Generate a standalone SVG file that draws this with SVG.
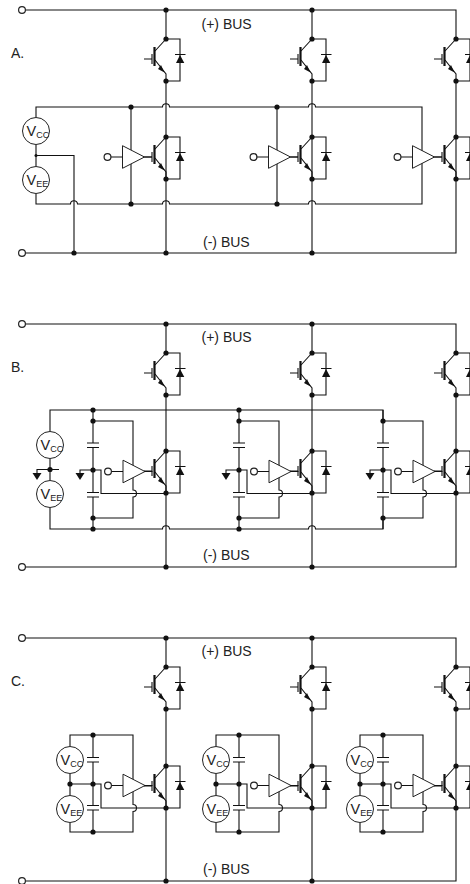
<svg xmlns="http://www.w3.org/2000/svg" xmlns:xlink="http://www.w3.org/1999/xlink" width="470" height="884" viewBox="0 0 470 884">
<style>
text{font-family:"Liberation Sans",Arial,sans-serif;fill:#222}
.l{font-size:14px}
.v{font-size:14.5px}
.s{font-size:9px}
.w{fill:none;stroke:#111;stroke-width:1.1}
.d{fill:#111;stroke:none}
.o{fill:#fff;stroke:#222;stroke-width:1}
.t{fill:#fff;stroke:#222;stroke-width:1.200}
</style>
<defs>
<g id="igbt">
<path class="w" d="M-22 20H-14M-14 15V25M-11 12L0 0M-11 21L0 35V42M0 0H14V42H0M9 15.500H19.500"/>
<path class="w" style="stroke-width:2.200" d="M-11.500 8V27"/>
<path class="d" d="M-1.500 33.500L-8 30L-5 26ZM10 24H18.300L14 16Z"/>
<circle class="d" cx="0" cy="0" r="2.600"/><circle class="d" cx="0" cy="42" r="2.600"/>
</g>
<g id="drv">
<path class="o" d="M0 -11.300V11.300L22 0Z"/>
<path class="w" d="M22 0H29.500M-11.500 0H0"/>
<circle class="t" cx="-15" cy="0" r="3.400"/>
</g>
<g id="cap"><path class="w" d="M-6 0H6M-6 4.500H6"/></g>
<g id="gnd"><path class="d" d="M-4.500 3H4.500L0 10Z"/></g>
<circle id="dot" class="d" r="2.600"/>
<g id="stage-b">
<path class="w" d="M93 410V443M93 447.500V492.500M93 497V529M93 421H133V490A3.500 3.500 0 0 1 133 497V518H93M93 470H80V473M93 470H101V493.500H166"/>
<use xlink:href="#cap" x="93" y="443"/><use xlink:href="#cap" x="93" y="492.500"/><use xlink:href="#gnd" x="80" y="470"/>
<use xlink:href="#dot" x="93" y="421"/><use xlink:href="#dot" x="93" y="470"/><use xlink:href="#dot" x="93" y="518"/>
<use xlink:href="#drv" x="123" y="471.500"/><use xlink:href="#igbt" x="166" y="451"/>
</g>
<g id="stage-c">
<path class="w" d="M70 746V735H133V804.500A3.500 3.500 0 0 1 133 811.500V832H70V823M70 774V795M70 784H101V808H166M93 735V757M93 762V805M93 810V832"/>
<use xlink:href="#cap" x="93" y="757.500"/><use xlink:href="#cap" x="93" y="805.500"/>
<circle class="o" cx="70" cy="760" r="13.500"/><circle class="o" cx="70" cy="809" r="13.500"/>
<use xlink:href="#dot" x="70" y="784"/><use xlink:href="#dot" x="93" y="735"/><use xlink:href="#dot" x="93" y="784"/><use xlink:href="#dot" x="93" y="832"/>
<use xlink:href="#drv" x="123" y="785.500"/><use xlink:href="#igbt" x="166" y="766"/>
</g>
</defs>

<g id="connectors">
<!-- A -->
<path class="w" d="M25.500 10H456V39M25.500 253H456V81M166 10V39M312 10V39M166 81V253M312 81V253M456 81V137"/>
<path class="w" d="M36 117V107H162.500A3.500 3.300 0 0 1 169.500 107H308.500A3.500 3.300 0 0 1 315.500 107H422V204H315.500A3.500 3.300 0 0 0 308.500 204H169.500A3.500 3.300 0 0 0 162.500 204H77.500A3.500 3.300 0 0 0 70.500 204H36V194"/>
<path class="w" d="M36 145V166M36 155.500H74V253"/>
<path class="w" d="M131 107V204M277 107V204"/>
<!-- B -->
<path class="w" d="M25.500 324H456V353M25.500 567H456V395M166 324V353M312 324V353M166 395V567M312 395V567M456 395V451"/>
<path class="w" d="M50 431V410H383V421M383 518V529H315.500A3.500 3.300 0 0 0 308.500 529H169.500A3.500 3.300 0 0 0 162.500 529H50V508"/>
<path class="w" d="M50 459V480M37 473V469.500H59"/>
<!-- C -->
<path class="w" d="M25.500 638H456V667M25.500 881H456V709M166 638V667M312 638V667M166 709V881M312 709V881"/>
</g>

<g id="panel-a">
<text class="l" x="11" y="58">A.</text>
<text class="l" x="201.500" y="28.500">(+) BUS</text>
<text class="l" x="203" y="247">(-) BUS</text>
<g id="a-in1"><circle class="t" cx="22" cy="10" r="3.400"/></g>
<g id="a-in2"><circle class="t" cx="22" cy="253" r="3.400"/></g>
<g id="a-vcc"><circle class="o" cx="36" cy="131" r="13.500"/><text class="v" x="26.500" y="135.500">V<tspan class="s" dy="2.500">CC</tspan></text></g>
<g id="a-vee"><circle class="o" cx="36" cy="180" r="13.500"/><text class="v" x="26.500" y="184.500">V<tspan class="s" dy="2.500">EE</tspan></text></g>
<g id="a-dots">
<circle class="d" cx="36" cy="155.500" r="1.500"/>
<use xlink:href="#dot" x="166" y="10"/><use xlink:href="#dot" x="312" y="10"/>
<use xlink:href="#dot" x="74" y="253"/><use xlink:href="#dot" x="166" y="253"/><use xlink:href="#dot" x="312" y="253"/>
<use xlink:href="#dot" x="131" y="107"/><use xlink:href="#dot" x="277" y="107"/>
<use xlink:href="#dot" x="131" y="204"/><use xlink:href="#dot" x="277" y="204"/>
</g>
<g id="a-q1"><use xlink:href="#igbt" x="166" y="39"/></g><g id="a-q2"><use xlink:href="#igbt" x="312" y="39"/></g><g id="a-q3"><use xlink:href="#igbt" x="456" y="39"/></g>
<g id="a-q4"><use xlink:href="#igbt" x="166" y="137"/></g><g id="a-q5"><use xlink:href="#igbt" x="312" y="137"/></g><g id="a-q6"><use xlink:href="#igbt" x="456" y="137"/></g>
<g id="a-d1"><use xlink:href="#drv" x="122.500" y="157"/></g><g id="a-d2"><use xlink:href="#drv" x="268.500" y="157"/></g><g id="a-d3"><use xlink:href="#drv" x="412.500" y="157"/></g>
</g>

<g id="panel-b">
<text class="l" x="11" y="372">B.</text>
<text class="l" x="201.500" y="342">(+) BUS</text>
<text class="l" x="203" y="560">(-) BUS</text>
<g id="b-in1"><circle class="t" cx="22" cy="324" r="3.400"/></g>
<g id="b-in2"><circle class="t" cx="22" cy="567" r="3.400"/></g>
<g id="b-vcc"><circle class="o" cx="50" cy="445" r="13.500"/><text class="v" x="40.500" y="449.500">V<tspan class="s" dy="2.500">CC</tspan></text></g>
<g id="b-vee"><circle class="o" cx="50" cy="494" r="13.500"/><text class="v" x="40.500" y="498.500">V<tspan class="s" dy="2.500">EE</tspan></text></g>
<g id="b-gnd"><use xlink:href="#gnd" x="37" y="470"/><use xlink:href="#dot" x="50" y="469.500"/></g>
<g id="b-dots">
<use xlink:href="#dot" x="166" y="324"/><use xlink:href="#dot" x="312" y="324"/>
<use xlink:href="#dot" x="166" y="567"/><use xlink:href="#dot" x="312" y="567"/>
<use xlink:href="#dot" x="93" y="410"/><use xlink:href="#dot" x="239" y="410"/>
<use xlink:href="#dot" x="93" y="529"/><use xlink:href="#dot" x="239" y="529"/>
</g>
<g id="b-q1"><use xlink:href="#igbt" x="166" y="353"/></g><g id="b-q2"><use xlink:href="#igbt" x="312" y="353"/></g><g id="b-q3"><use xlink:href="#igbt" x="456" y="353"/></g>
<g id="b-s1"><use xlink:href="#stage-b"/></g>
<g id="b-s2"><use xlink:href="#stage-b" x="146"/></g>
<g id="b-s3"><use xlink:href="#stage-b" x="290"/></g>
</g>

<g id="panel-c">
<text class="l" x="11" y="686">C.</text>
<text class="l" x="201.500" y="655.500">(+) BUS</text>
<text class="l" x="203" y="874">(-) BUS</text>
<g id="c-in1"><circle class="t" cx="22" cy="638" r="3.400"/></g>
<g id="c-in2"><circle class="t" cx="22" cy="881" r="3.400"/></g>
<g id="c-dots">
<use xlink:href="#dot" x="166" y="638"/><use xlink:href="#dot" x="312" y="638"/>
<use xlink:href="#dot" x="166" y="881"/><use xlink:href="#dot" x="312" y="881"/>
</g>
<g id="c-q1"><use xlink:href="#igbt" x="166" y="667"/></g><g id="c-q2"><use xlink:href="#igbt" x="312" y="667"/></g><g id="c-q3"><use xlink:href="#igbt" x="456" y="667"/></g>
<g id="c-s1"><use xlink:href="#stage-c"/><text class="v" x="60.500" y="764.500">V<tspan class="s" dy="2.500">CC</tspan></text><text class="v" x="60.500" y="813.500">V<tspan class="s" dy="2.500">EE</tspan></text></g>
<g id="c-s2"><use xlink:href="#stage-c" x="146"/><text class="v" x="206.500" y="764.500">V<tspan class="s" dy="2.500">CC</tspan></text><text class="v" x="206.500" y="813.500">V<tspan class="s" dy="2.500">EE</tspan></text></g>
<g id="c-s3"><use xlink:href="#stage-c" x="290"/><text class="v" x="350.500" y="764.500">V<tspan class="s" dy="2.500">CC</tspan></text><text class="v" x="350.500" y="813.500">V<tspan class="s" dy="2.500">EE</tspan></text></g>
</g>
</svg>
